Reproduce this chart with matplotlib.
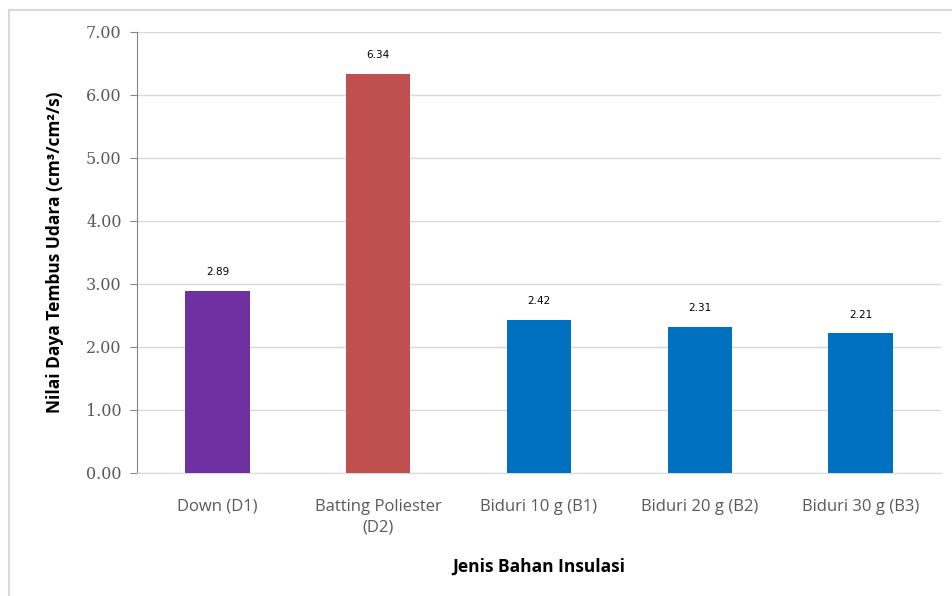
import matplotlib.pyplot as plt
from matplotlib.patches import Rectangle

categories = ['Down (D1)', 'Batting Poliester\n(D2)', 'Biduri 10 g (B1)', 'Biduri 20 g (B2)', 'Biduri 30 g (B3)']
values = [2.89, 6.34, 2.42, 2.31, 2.21]
colors = ['#7030A0', '#C0504D', '#0070C0', '#0070C0', '#0070C0']
yticks = [0, 1, 2, 3, 4, 5, 6, 7]

fig = plt.figure(figsize=(9.52, 5.96), dpi=100)
# light frame around the chart
fig.patches.append(Rectangle((9 / 952, -0.01), 1.1, (596 - 10) / 596 + 0.01,
                             transform=fig.transFigure, fill=False,
                             edgecolor='#D9D9D9', linewidth=1.5))

ax = fig.add_axes([137 / 952, 1 - 472.5 / 596, (941 - 137) / 952, (472.5 - 32) / 596])
x = range(len(categories))
bars = ax.bar(x, values, width=0.40, color=colors, zorder=3)

for b, v in zip(bars, values):
    ax.annotate(f'{v:.2f}', (b.get_x() + b.get_width() / 2, v),
                xytext=(0, 10), textcoords='offset points',
                ha='center', va='bottom', fontsize=7.5, color='black')

ax.set_xlim(-0.5, len(categories) - 0.5)
ax.set_ylim(0, 7)
ax.set_yticks(yticks)
ax.set_yticklabels([f'{t:.2f}' for t in yticks], family='DejaVu Serif',
                   fontsize=11.5, color='#595959')
ax.set_xticks(list(x))
ax.set_xticklabels(categories, family='Open Sans', fontsize=12, color='#595959',
                   linespacing=1.4)
ax.tick_params(axis='x', length=0, pad=19)
ax.tick_params(axis='y', length=5, color='#868686', pad=6)

ax.grid(axis='y', color='#D9D9D9', linewidth=1, zorder=0)
for s in ['top', 'right']:
    ax.spines[s].set_visible(False)
ax.spines['left'].set_color('#868686')
ax.spines['bottom'].set_color('#D9D9D9')

ax.set_ylabel('Nilai Daya Tembus Udara (cm³/cm²/s)', family='Open Sans',
              fontweight='bold', fontsize=12.5, labelpad=16)
ax.set_xlabel('Jenis Bahan Insulasi', family='Open Sans', fontweight='bold',
              fontsize=12.5, labelpad=16)

fig.savefig('out.png', dpi=100)
